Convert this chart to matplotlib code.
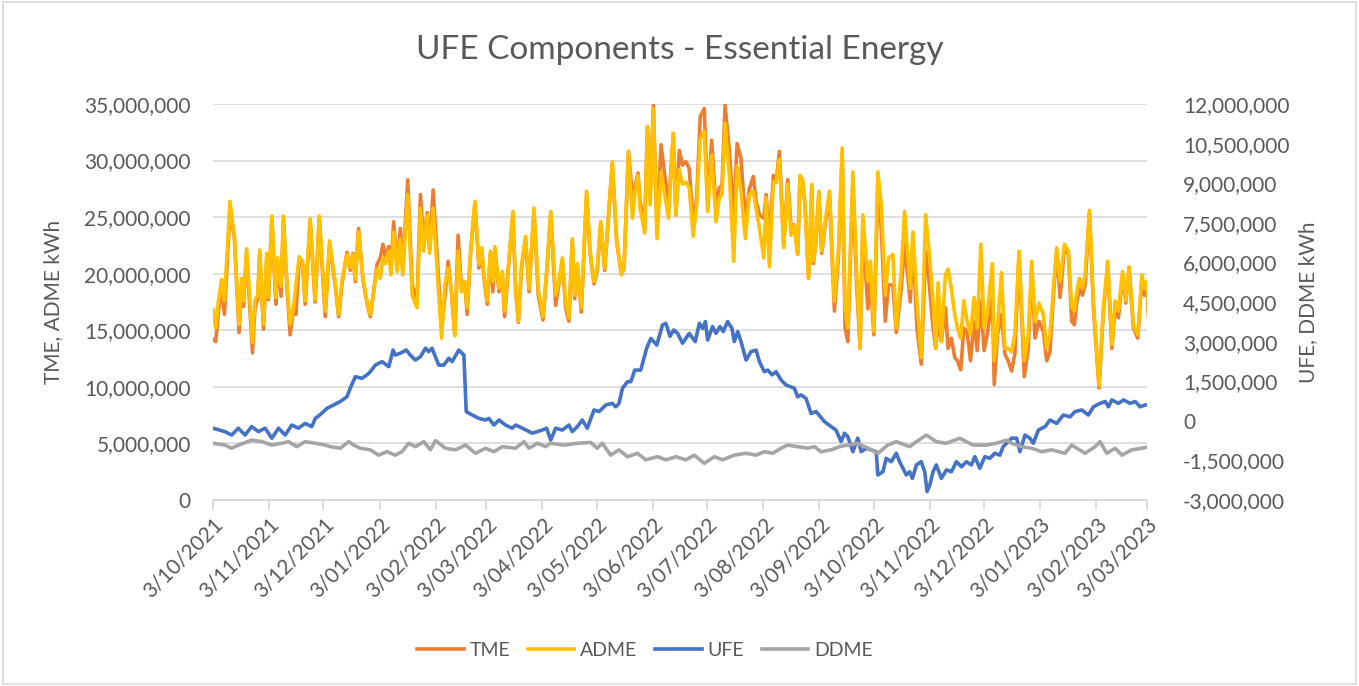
import numpy as np
import pandas as pd
import matplotlib
matplotlib.use("Agg")
import matplotlib.pyplot as plt
import matplotlib.dates as mdates
from matplotlib.ticker import FuncFormatter, MultipleLocator
from matplotlib.patches import Rectangle

plt.rcParams['font.family'] = ['Lato', 'DejaVu Sans']

start = pd.Timestamp("2021-10-03")
end = pd.Timestamp("2023-03-03")

# TME / ADME (millions of kWh), days counted from 3/10/2021
adme_day = [0, 1.5, 3.0, 4.8, 6.3, 9.4, 11.8, 14.4, 15.9, 16.8, 18.6, 21.8, 23.2, 24.7, 25.8, 27.9, 29.7, 30.6,
            32.5, 34.7, 35.6, 37.6, 38.9, 40.8, 42.6, 44.5, 45.8, 47.6, 49.5, 50.9, 53.7, 56.4, 58.7,
            62.0, 64.4, 67.5, 69.4, 71.2, 74.0, 75.8, 77.3, 78.6, 80.4, 82.8, 85.1, 86.9, 88.8, 90.6, 92.4,
            93.9, 95.2, 97.1, 98.3, 99.8, 101.7, 103.5, 104.8, 107.6, 110.0, 112.7, 114.6, 116.4, 118.3,
            119.7, 121.6,
            126.3, 128.1, 129.9, 131.8, 133.6, 135.4, 137.3, 139.1, 140.4, 142.3, 144.7, 146.9, 148.4, 149.7,
            151.5, 153.3, 154.6, 155.7, 158.0, 159.8, 161.1, 163.1, 165.7, 167.2, 168.7, 170.5, 172.7, 174.6,
            177.3, 179.7, 182.3, 184.3, 186.6,
            189.3, 191.1, 193.0, 194.8, 196.6, 198.5, 199.8, 201.3, 203.5, 206.4, 208.3, 210.5, 212.3, 214.2,
            216.4, 218.8, 220.6, 223.0, 225.6, 227.1, 229.5, 231.7, 233.0, 234.8, 235.9, 238.5, 240.0, 241.5,
            243.3, 245.3, 247.5,
            251.7, 254.3, 255.7, 257.6, 259.4, 261.3, 263.1, 265.3, 267.2, 269.2, 271.4, 273.3, 275.5, 277.9,
            279.7, 281.2, 282.9, 285.3, 287.7, 289.5, 291.7, 294.1, 296.3, 298.5, 300.0, 301.9, 304.3, 305.6,
            307.4, 309.6, 311.1, 312.9,
            315.3, 317.5, 319.3, 321.2, 323.0, 324.3, 325.8, 327.1, 329.0, 330.8, 331.7, 333.2, 334.7, 336.3,
            338.2, 340.6, 343.3, 345.5, 347.6, 349.2, 350.7, 353.5, 355.5, 357.5, 359.0, 361.8, 363.2, 365.1,
            367.3, 369.2, 371.4, 373.2, 375.6, 377.5, 380.2, 382.1,
            385.2, 386.7, 388.9, 391.3, 393.7, 395.6, 397.8, 399.3, 400.6, 402.4, 404.6, 406.1, 407.9, 409.8,
            411.3, 413.1, 414.8, 416.6, 418.5, 420.5, 422.2, 424.2, 426.0, 427.7, 430.6, 431.6, 433.4, 435.6,
            437.5, 439.3, 441.2,
            443.0, 445.3, 448.2, 450.4, 452.3, 454.1, 456.3, 458.7, 460.6, 462.4, 464.3, 466.1, 468.0, 470.4,
            472.6, 474.4, 475.9, 477.2, 478.7, 480.3, 481.8, 484.2, 486.4, 489.5, 491.9, 494.3, 496.6, 498.4,
            500.2, 502.5, 504.3, 506.1, 508.5, 510.9, 513.2, 514.6, 516.0, 517.0]

adme = [16.8, 15.2, 17.6, 19.5, 17.6, 26.4, 23.1, 15.5, 19.6, 17.6, 22.2, 13.9, 17.7, 18.1, 22.1, 15.5, 21.8, 17.9,
        25.1, 17.9, 21.4, 18.9, 25.1, 19.3, 15.5, 17.0, 19.0, 21.5, 21.1, 17.6, 24.9, 17.7, 25.1,
        16.7, 22.9, 19.3, 16.4, 19.3, 21.7, 20.5, 21.7, 19.5, 23.7, 19.6, 17.6, 16.4, 18.4, 20.4, 19.6,
        21.4, 20.9, 22.0, 19.9, 23.7, 20.2, 23.1, 19.9, 27.0, 18.1, 17.0, 25.8, 22.0, 25.2,
        21.8, 25.8,
        14.3, 19.0, 20.5, 18.4, 14.5, 22.0, 18.4, 19.3, 17.0, 22.0, 26.4, 20.8, 22.3, 19.9,
        17.6, 22.0, 19.3, 22.4, 18.7, 20.2, 16.7, 20.5, 25.5, 18.7, 15.8, 20.8, 23.3, 18.7,
        25.8, 18.7, 16.2, 20.2, 25.5,
        18.1, 19.3, 21.4, 17.6, 16.1, 23.1, 18.1, 20.9, 17.0, 27.3, 22.0, 19.3, 20.5, 24.6,
        20.5, 25.8, 29.9, 22.9, 19.9, 20.5, 30.8, 24.9, 27.0, 28.7, 25.8, 23.6, 33.0, 26.1,
        34.6, 23.1, 29.0,
        24.9, 32.4, 25.2, 29.2, 27.9, 28.1, 27.6, 23.3, 26.1, 32.0, 32.6, 25.5, 30.5, 24.6,
        26.7, 27.0, 33.3, 28.7, 21.1, 29.5, 27.3, 23.1, 27.0, 27.3, 25.8, 24.0, 21.4, 26.7,
        20.6, 28.1, 28.1, 30.1,
        22.3, 27.9, 23.4, 24.3, 21.7, 28.7, 28.3, 26.1, 19.6, 27.9, 21.1, 23.1, 27.3, 22.0,
        24.6, 27.3, 17.6, 22.0, 31.1, 17.0, 15.2, 29.0, 20.5, 13.4, 25.2, 19.3, 21.1, 14.9,
        29.0, 26.1, 18.1, 21.4, 21.7, 15.2, 20.2, 25.5,
        18.7, 23.7, 17.6, 12.6, 25.2, 22.0, 17.6, 13.4, 19.2, 14.0, 19.9, 20.4, 18.7, 16.4,
        15.2, 14.3, 17.6, 15.8, 14.6, 17.9, 15.2, 22.6, 15.2, 16.4, 20.9, 12.3, 15.2, 20.1,
        13.4, 13.4, 13.1,
        14.6, 22.0, 12.3, 14.6, 21.1, 15.8, 17.4, 16.4, 13.4, 14.6, 18.7, 22.3, 19.3, 22.6,
        22.0, 17.0, 16.7, 18.4, 19.6, 18.7, 19.9, 25.6, 17.6, 10.1, 17.0, 21.1, 13.7, 17.6,
        16.7, 20.2, 17.6, 20.6, 15.5, 14.6, 19.9, 18.7, 19.3, 16.1]

tme = [14.2, 14.0, 16.6, 18.9, 16.4, 25.6, 23.3, 14.8, 19.1, 17.1, 21.8, 13.0, 17.0, 17.8, 21.7, 15.1, 21.5, 17.7,
       24.8, 17.3, 21.0, 18.0, 24.8, 19.0, 14.6, 16.9, 16.4, 21.2, 20.8, 17.3, 24.6, 17.5, 24.8,
       16.2, 22.6, 19.0, 16.2, 19.0, 21.9, 20.3, 21.8, 19.3, 24.0, 19.5, 17.4, 16.2, 18.5, 20.8, 21.4,
       22.6, 21.5, 22.4, 20.5, 24.6, 20.6, 24.0, 20.3, 28.3, 19.0, 17.6, 27.0, 22.9, 25.4,
       22.2, 27.4,
       15.2, 17.9, 21.1, 18.2, 14.6, 23.4, 18.6, 19.3, 16.4, 21.8, 26.2, 20.5, 22.0, 19.6,
       17.3, 21.8, 18.4, 22.2, 18.4, 20.0, 16.2, 20.3, 25.3, 18.5, 15.7, 20.6, 23.1, 18.4,
       25.6, 18.1, 15.9, 20.0, 25.3,
       17.2, 19.1, 21.2, 17.0, 15.8, 22.9, 17.8, 20.7, 16.6, 27.1, 21.8, 19.1, 20.3, 24.4,
       20.3, 25.8, 29.7, 22.9, 20.0, 20.5, 30.8, 27.0, 27.5, 28.9, 26.5, 24.0, 33.0, 26.8,
       34.9, 23.5, 31.4,
       26.0, 32.4, 25.2, 30.9, 29.6, 29.9, 29.3, 24.3, 26.8, 33.9, 34.6, 26.0, 31.8, 25.8,
       27.6, 27.8, 34.9, 30.8, 24.9, 31.5, 30.2, 24.6, 27.5, 28.6, 26.4, 25.2, 24.9, 27.0,
       22.9, 28.7, 28.1, 30.8,
       22.5, 28.3, 24.3, 24.3, 21.7, 28.5, 28.0, 26.0, 19.6, 27.5, 20.9, 23.0, 27.0, 21.8,
       24.3, 26.8, 16.7, 21.4, 30.5, 15.2, 14.0, 28.0, 19.3, 13.4, 24.0, 16.9, 19.5, 14.6,
       27.5, 24.0, 15.8, 19.0, 19.0, 14.8, 18.7, 22.6,
       17.5, 22.9, 15.2, 12.0, 22.0, 19.3, 15.2, 13.4, 15.8, 14.0, 17.0, 13.4, 14.3, 12.6,
       12.3, 11.5, 15.2, 14.9, 12.3, 15.8, 13.2, 17.6, 13.2, 14.6, 17.9, 10.2, 14.6, 16.4,
       12.9, 12.3, 11.4,
       12.9, 21.7, 10.9, 13.4, 20.5, 14.3, 15.8, 14.9, 12.3, 13.1, 18.1, 22.0, 17.9, 22.3,
       21.7, 15.8, 15.5, 17.5, 18.7, 18.1, 19.0, 25.4, 17.0, 9.9, 16.7, 20.8, 13.4, 17.0,
       16.1, 19.9, 17.4, 20.5, 15.2, 14.3, 19.6, 18.1, 18.8, 15.8]

# UFE (millions of kWh)
ufe_day = [0, 6.6, 10.3, 14.0, 17.7, 21.4, 25.1, 28.8, 32.5, 36.2, 39.9, 43.5, 47.2, 50.9, 54.6, 56.5,
           59.5, 62.9, 66.6, 70.3, 74.0, 75.8, 78.6, 82.3, 85.1, 86.9, 89.7, 93.4, 97.1, 99.5, 100.7, 103.5,
           106.8, 109.0, 111.8, 114.6, 117.4, 119.2, 121.0, 124.7, 127.5, 130.3, 132.1, 135.8, 138.6, 139.9,
           143.2, 146.9, 150.6, 152.4, 155.2, 158.0, 161.6, 165.3, 167.2, 170.9, 176.4, 181.9, 184.3, 186.6,
           189.3, 193.0, 196.6, 198.5, 201.3, 204.0, 206.8, 210.5, 213.3, 217.0, 220.6, 222.5, 224.3, 226.2,
           229.0, 230.8, 233.0, 236.3, 239.6, 241.9, 245.2, 248.3, 250.2, 252.5, 254.5, 256.7, 259.4, 263.1,
           266.4, 268.7, 270.5, 272.0, 273.3, 276.0, 277.9, 280.1, 281.9, 284.3, 286.7, 288.0, 289.9, 291.7,
           294.5, 297.2, 300.0, 301.9, 304.6, 306.5, 308.9, 311.1, 313.8, 316.5, 321.2, 323.0, 324.9, 327.6,
           330.4, 333.2, 337.8, 341.5, 344.2, 347.0, 348.9, 350.7, 353.5, 356.2, 358.1, 360.9, 363.6, 366.4,
           367.3, 370.1, 371.9, 374.7, 377.5, 379.3, 381.2, 383.0, 384.9, 386.4, 388.6, 391.3, 393.2, 394.5,
           396.0, 397.8, 399.6, 402.4, 405.2, 407.9, 410.7, 413.5, 416.2, 419.0, 420.9, 423.6, 426.4, 429.2,
           431.9, 434.7, 436.5, 439.3, 441.2, 444.0, 445.8, 448.6, 451.3, 453.2, 456.0, 459.7, 462.4, 466.1,
           469.8, 473.5, 476.3, 480.0, 483.6, 486.4, 490.1, 492.9, 494.7, 496.6, 500.2, 503.0, 506.7, 509.5,
           512.2, 515.0, 517.0]

ufe = [-0.28, -0.41, -0.54, -0.28, -0.54, -0.22, -0.41, -0.28, -0.66, -0.28, -0.54, -0.16, -0.28, -0.10, -0.22, 0.09,
       0.25, 0.47, 0.60, 0.73, 0.91, 1.23, 1.67, 1.61, 1.74, 1.86, 2.11, 2.24, 2.05, 2.68, 2.49, 2.56,
       2.68, 2.49, 2.30, 2.43, 2.75, 2.62, 2.75, 2.11, 2.11, 2.37, 2.24, 2.68, 2.49, 0.35,
       0.22, 0.09, 0.03, 0.09, -0.16, 0.03, -0.16, -0.28, -0.16, -0.28, -0.47, -0.35, -0.28, -0.73,
       -0.28, -0.35, -0.16, -0.41, -0.22, 0.03, -0.28, 0.41, 0.35, 0.60, 0.66, 0.53, 0.66, 1.23,
       1.48, 1.48, 1.92, 1.92, 2.75, 3.12, 2.87, 3.63, 3.69, 3.20, 3.44, 3.31, 2.94, 3.31,
       3.00, 3.69, 3.50, 3.76, 3.06, 3.57, 3.31, 3.57, 3.38, 3.76, 3.50, 3.00, 3.38, 3.00,
       2.30, 2.62, 2.68, 2.24, 1.86, 1.92, 1.74, 1.86, 1.55, 1.36, 1.23, 0.91, 0.98, 0.85,
       0.28, 0.35, -0.03, -0.22, -0.35, -0.79, -0.47, -0.60, -1.17, -0.66, -1.17, -1.04, -1.10, -1.17,
       -2.05, -1.93, -1.42, -1.55, -1.23, -1.55, -1.80, -2.05, -1.93, -2.18, -1.67, -1.55, -1.93, -2.68,
       -2.43, -1.93, -1.67, -2.18, -1.86, -1.93, -1.55, -1.74, -1.55, -1.67, -1.36, -1.80, -1.36, -1.42,
       -1.23, -1.30, -0.98, -0.79, -0.66, -0.66, -1.17, -0.54, -0.66, -0.85, -0.35, -0.22, 0.03, -0.10,
       0.22, 0.15, 0.35, 0.41, 0.22, 0.53, 0.66, 0.73, 0.53, 0.79, 0.66, 0.79, 0.66, 0.73,
       0.53, 0.60, 0.60]

# DDME (millions of kWh)
ddme_day = [0, 6.6, 10.3, 14.0, 16.8, 21.4, 27.0, 32.5, 38.0, 41.7, 46.3, 50.9, 56.5, 62.0, 64.8, 70.3,
            74.9, 77.7, 81.4, 86.9, 91.5, 96.1, 100.7, 104.4, 108.1, 111.8, 116.4, 120.1, 122.9, 128.4,
            134.0, 139.5, 145.0, 150.6, 155.2, 159.8, 167.2, 171.8, 174.6, 179.2, 183.8, 186.5, 193.9,
            201.3, 208.6, 212.3, 215.1, 219.7, 224.3, 229.0, 234.5, 239.1, 245.5, 250.2, 255.7, 261.3,
            265.9, 271.4, 277.0, 281.6, 288.0, 294.5, 300.0, 304.6, 309.2, 313.9, 317.5, 323.0, 328.6,
            332.3, 335.9, 341.5, 346.1, 350.7, 356.2, 361.8, 367.3, 372.8, 377.5, 384.9, 388.6, 394.1,
            399.6, 405.2, 412.6, 419.9, 427.3, 432.9, 438.4, 441.2, 446.7, 452.3, 457.8, 463.3, 470.7,
            474.4, 481.8, 487.3, 490.1, 493.8, 498.4, 502.1, 507.6, 513.2, 517.0]

ddme = [-0.85, -0.92, -1.04, -0.92, -0.85, -0.73, -0.79, -0.92, -0.85, -0.79, -0.98, -0.79, -0.85, -0.92, -0.98, -1.04,
        -0.79, -0.92, -1.04, -1.10, -1.30, -1.17, -1.30, -1.17, -0.85, -0.98, -0.79, -1.10, -0.75, -1.04,
        -1.10, -0.92, -1.23, -1.04, -1.17, -0.98, -1.04, -0.79, -1.04, -0.85, -0.98, -0.85, -0.92,
        -0.85, -0.82, -1.04, -0.85, -1.30, -1.10, -1.36, -1.23, -1.48, -1.36, -1.48, -1.36, -1.48,
        -1.30, -1.61, -1.36, -1.48, -1.30, -1.23, -1.30, -1.17, -1.23, -1.04, -0.92, -0.98, -1.04,
        -0.98, -1.17, -1.10, -0.98, -0.92, -0.85, -1.04, -1.23, -0.92, -0.79, -0.98, -0.79, -0.54,
        -0.79, -0.85, -0.66, -0.92, -0.92, -0.85, -0.73, -0.85, -0.98, -1.04, -1.17, -1.10, -1.23,
        -0.92, -1.23, -0.98, -0.79, -1.23, -1.04, -1.30, -1.10, -1.04, -0.98]


def to_dates(days):
    return start + pd.to_timedelta(days, unit="D")


text_c = "#595959"
grid_c = "#d9d9d9"

fig = plt.figure(figsize=(13.59, 6.86), dpi=100)
ax = fig.add_axes([213 / 1359, 1 - 500 / 686, (1147 - 213) / 1359, (500 - 104) / 686])
ax2 = ax.twinx()

ax.plot(to_dates(adme_day), np.array(tme) * 1e6, color="#ED7D31", lw=2.6, label="TME", solid_joinstyle="round")
ax.plot(to_dates(adme_day), np.array(adme) * 1e6, color="#FFC000", lw=2.6, label="ADME", solid_joinstyle="round")
ax2.plot(to_dates(ufe_day), np.array(ufe) * 1e6, color="#4472C4", lw=2.6, label="UFE", solid_joinstyle="round")
ax2.plot(to_dates(ddme_day), np.array(ddme) * 1e6, color="#A5A5A5", lw=2.6, label="DDME", solid_joinstyle="round")

ax.set_ylim(0, 35e6)
ax.yaxis.set_major_locator(MultipleLocator(5e6))
ax2.set_ylim(-3e6, 12e6)
ax2.yaxis.set_major_locator(MultipleLocator(1.5e6))
fmt = FuncFormatter(lambda v, p: f"{v:,.0f}")
ax.yaxis.set_major_formatter(fmt)
ax2.yaxis.set_major_formatter(fmt)

ax.set_xlim(start, end)
ax.xaxis.set_major_locator(mdates.MonthLocator(bymonthday=3))
ax.xaxis.set_major_formatter(FuncFormatter(
    lambda v, p: (lambda d: f"{d.day}/{d:%m/%Y}")(mdates.num2date(v))))

ax.grid(axis="y", color=grid_c, lw=1.2)
ax.set_axisbelow(True)
for a in (ax, ax2):
    for s in ("top", "left", "right"):
        a.spines[s].set_visible(False)
    a.spines["bottom"].set_color(grid_c)
    a.spines["bottom"].set_linewidth(1.2)

ax.tick_params(axis="y", length=0, pad=16, labelsize=15, labelcolor=text_c)
ax2.tick_params(axis="y", length=0, pad=26, labelsize=15, labelcolor=text_c)
ax.tick_params(axis="x", length=7, color=grid_c, width=1.2, labelsize=15, labelcolor=text_c, pad=3)
for lab in ax.get_xticklabels():
    lab.set_rotation(45)
    lab.set_ha("right")
    lab.set_va("top")
    lab.set_rotation_mode("anchor")

ax.set_ylabel("TME, ADME kWh", fontsize=15, color=text_c, labelpad=15)
ax2.set_ylabel("UFE, DDME kWh", fontsize=15, color=text_c, labelpad=6)

fig.text(0.5, 1 - 50 / 686, "UFE Components - Essential Energy", ha="center", va="center",
         fontsize=24, color=text_c)

h1, l1 = ax.get_legend_handles_labels()
h2, l2 = ax2.get_legend_handles_labels()
fig.legend(h1 + h2, l1 + l2, loc="center", bbox_to_anchor=(645 / 1359, 1 - 650 / 686), ncol=4, frameon=False,
           fontsize=14, labelcolor=text_c, handlelength=2.4, handletextpad=0.3, columnspacing=0.9)

fig.patches.append(Rectangle((0.002, 0.003), 0.996, 0.994, transform=fig.transFigure, fill=False,
                             edgecolor=grid_c, lw=1.2))

fig.savefig("out.png", dpi=100)
